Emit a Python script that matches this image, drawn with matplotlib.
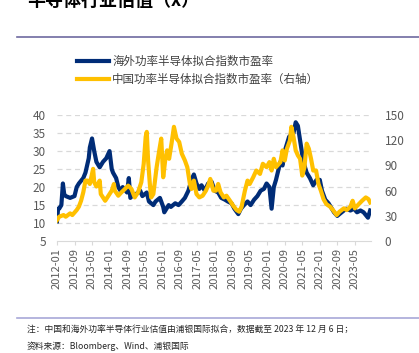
import matplotlib
matplotlib.use('Agg')
import matplotlib.pyplot as plt
from matplotlib.lines import Line2D

plt.rcParams['font.family'] = ['Noto Sans CJK SC', 'DejaVu Sans']

# month offsets from 2012-01
os_m = [0, 0.5, 1, 2, 2.7, 3.3, 4, 6, 8, 9, 10, 12, 13, 14.5, 15, 16, 17, 18, 19.5, 21, 22.5, 24,
        25, 25.6, 27, 28, 29, 30, 32, 32.8, 33.5, 35, 36, 38, 39, 41, 42, 44, 45, 47, 48.5, 49,
        51, 52, 54, 55.5, 57, 58.4, 60, 61.4, 62.5, 63.7, 65, 66, 67.5, 69, 70.6, 72, 73.6, 75,
        76.7, 78, 79.7, 81, 82.8, 84, 85.4, 87, 88.4, 90, 91.5, 93, 94.5, 95.7, 97, 98, 99, 100,
        102, 103, 104, 105, 106, 108, 109, 110, 111, 112, 113, 114, 115.5, 117, 118.5, 120, 121,
        122.5, 124, 125.5, 126.5, 128, 129, 131, 132, 134, 135.6, 137, 138.6, 140, 142, 143]
os_pe = [10.5, 14, 14, 15, 21, 18, 17.5, 17, 17.5, 20, 21, 22.5, 24, 28, 31, 33.5, 30, 27, 25.5,
         27, 28, 30, 25, 24, 22.5, 20, 19, 20, 18.5, 22.5, 17, 18, 18, 19, 17.5, 18.5, 16, 15,
         16, 17, 14.5, 13, 15, 14.5, 15.5, 15, 16, 17, 19, 22, 23.5, 21, 19.5, 20.5, 19, 21,
         21.5, 19, 18.5, 17, 16.5, 16, 15.5, 14, 12.5, 14, 15, 16, 15, 16.5, 17.5, 19, 19.5, 21,
         20, 14, 20, 22, 27, 26, 30, 32, 34, 35, 38, 37, 33, 29, 26, 24, 22.5, 20.5, 22, 22, 19,
         16.5, 15.5, 14, 13, 12, 12.5, 13.5, 14, 13.5, 14, 13, 13.5, 13, 11.5, 13.5]

cn_m = [0, 1, 3, 4, 6, 7, 9, 10, 11, 12, 13, 14, 15, 16, 16.5, 17, 18, 19.5, 20, 22, 23, 25, 26,
        26.4, 28, 29.4, 31, 32.5, 34, 35.5, 37, 38.5, 39.6, 40.5, 41, 41.6, 42.4, 43, 44, 45.5,
        46.7, 47.6, 48.5, 49.4, 50.3, 51.2, 52.3, 53.4, 54.6, 55.8, 57, 58.4, 59.5, 60.7, 61.4,
        62.5, 63.7, 65, 66.5, 68, 69, 70, 71.4, 72.6, 73.6, 74.7, 76.2, 77.4, 79, 80.5, 82, 83.2,
        84.3, 85.8, 87, 88, 89.6, 91, 92.7, 94, 95.7, 97, 98, 99, 100, 102, 103, 104, 105, 106.4,
        107, 108, 109, 110, 111, 112, 113, 114, 115, 116, 117, 118.3, 119.4, 120.5, 121.7, 123,
        124.7, 126, 127.7, 129, 131, 132.3, 134, 135, 136, 137.8, 139.3, 141, 142.2, 143]
cn_pe = [25, 29, 31, 29, 33, 31, 37, 41, 48, 58, 72, 72, 68, 80, 86, 70, 65, 72, 56, 48, 52, 60,
         68, 60, 54, 58, 62, 66, 62, 52, 58, 70, 92, 124, 130, 96, 68, 52, 56, 88, 108, 122, 76,
         96, 108, 98, 116, 136, 122, 118, 104, 96, 88, 68, 62, 72, 56, 52, 54, 60, 66, 74, 60,
         60, 68, 58, 52, 54, 48, 42, 37, 35, 41, 60, 72, 68, 76, 84, 80, 92, 88, 94, 84, 98, 88,
         94, 108, 96, 110, 120, 136, 124, 108, 102, 98, 78, 88, 116, 110, 98, 84, 84, 68, 60, 50,
         44, 41, 37, 31, 35, 39, 37, 41, 48, 39, 44, 48, 52, 50, 46]

tick_months = list(range(0, 137, 8))
tick_labels = ['2012-01', '2012-09', '2013-05', '2014-01', '2014-09', '2015-05', '2016-01',
               '2016-09', '2017-05', '2018-01', '2018-09', '2019-05', '2020-01', '2020-09',
               '2021-05', '2022-01', '2022-09', '2023-05']

blue = '#002c77'
gold = '#ffc000'
grey = '#595959'

fig = plt.figure(figsize=(4.19, 3.53), dpi=100)
ax = fig.add_axes([0.136, 0.317, 0.749, 0.357])
ax2 = ax.twinx()

ax.plot(os_m, os_pe, color=blue, lw=3.0, solid_joinstyle='round', zorder=3)
ax2.plot(cn_m, cn_pe, color=gold, lw=3.0, solid_joinstyle='round', zorder=3)

ax.set_xlim(0, 143.3)
ax.set_ylim(5, 40)
ax.set_yticks(range(5, 41, 5))
ax2.set_ylim(0, 150)
ax2.set_yticks(range(0, 151, 30))

for y in range(10, 41, 5):
    ax.axhline(y, color='#d9d9d9', lw=0.9, ls=(0, (4, 3)), zorder=0)

ax.set_xticks(tick_months)
ax.set_xticklabels(tick_labels, rotation=90)
for a in (ax, ax2):
    for s in a.spines.values():
        s.set_visible(False)
ax.spines['bottom'].set_visible(True)
ax.spines['bottom'].set_color('#d9d9d9')
ax.tick_params(axis='x', length=3, color='#d9d9d9', labelsize=8, labelcolor=grey, pad=2)
ax.tick_params(axis='y', length=0, labelsize=8.5, labelcolor=grey, pad=8)
ax2.tick_params(axis='y', length=0, labelsize=8.5, labelcolor=grey, pad=10)

# legend
handles = [Line2D([], [], color=blue, lw=3), Line2D([], [], color=gold, lw=3)]
fig.legend(handles, ['海外功率半导体拟合指数市盈率', '中国功率半导体拟合指数市盈率（右轴）'],
           loc='upper left', bbox_to_anchor=(0.184, 0.845), frameon=False,
           fontsize=8.3, labelcolor='#404040', handlelength=2.8, handletextpad=0.25,
           labelspacing=0.45, borderaxespad=0, borderpad=0)

# header / footer
fig.text(0.064, 1.0, '半导体行业估值（x）', fontsize=13, fontweight='bold', va='center',
         color='black')
fig.add_artist(Line2D([0.041, 1.0], [1 - 37.3 / 353] * 2, color='#6e6aa0', lw=1.2))
fig.add_artist(Line2D([0.041, 1.0], [1 - 318 / 353] * 2, color='#a8a8d8', lw=1.2))
fig.text(0.064, 1 - 330 / 353, '注：中国和海外功率半导体行业估值由浦银国际拟合，数据截至 2023 年 12 月 6 日；',
         fontsize=6.3, va='center', color='#262626')
fig.text(0.064, 1 - 346 / 353, '资料来源：Bloomberg、Wind、浦银国际',
         fontsize=6.3, va='center', color='#262626')

fig.savefig('out.png', dpi=100)
